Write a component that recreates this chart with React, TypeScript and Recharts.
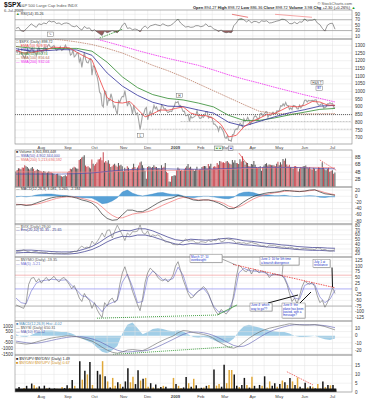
import React from 'react';
import { ComposedChart, Line, Area, Bar, Cell, XAxis, YAxis, CartesianGrid, ReferenceLine, ReferenceArea } from 'recharts';

// ---------- categories / ticks ----------
const monthLabels = ['Aug', 'Sep', 'Oct', 'Nov', 'Dec', '2009', 'Feb', 'Mar', 'Apr', 'May', 'Jun', 'Jul'];
const monthStartIdx = [20, 41, 62, 85, 104, 126, 146, 165, 187, 208, 228, 250];
const midMonthIdx = [7, 30, 50, 72, 94, 114, 135, 155, 175, 196, 218, 238];

const rsiTicks = [90, 70, 50, 30, 10];
const priceTicks = [1300, 1250, 1200, 1150, 1100, 1050, 1000, 950, 900, 850, 800, 750, 700];
const volTicks = [8, 6, 4, 2];
const macdTicks = [20, 0, -20, -40, -60, -80];
const vixTicks = [80, 70, 60, 50, 40, 30, 20];
const nymoTicks = [125, 100, 75, 50, 25, 0, -25, -50, -75, -100, -125];
const nysiTicksL = [1000, 500, 0, -500, -1000, -1500];
const nysiTicksR = [10, 0, -10, -20];
const ratioTicks = [15, 10, 5, 0];

// ---------- daily values (trading day index 0 = 3-Jul-2008) ----------
const closeVals = [
  1262.9, 1252.3, 1273.7, 1244.7, 1253.4, 1239.5, 1228.3, 1214.9, 1245.4, 1260.3, 1260.7, 1260.0, 1277.0, 1282.2, 1252.5, 1257.8, 1234.4, 1263.2, 1284.3, 1267.4,
  1260.3, 1249.0, 1284.9, 1289.2, 1266.1, 1296.3, 1305.3, 1289.6, 1285.8, 1292.9, 1298.2, 1278.6, 1267.0, 1274.5, 1277.7, 1292.2, 1266.8, 1271.5, 1281.7, 1300.7, 1282.8,
  1277.6, 1275.0, 1236.8, 1242.3, 1267.8, 1224.5, 1232.0, 1249.1, 1251.7, 1192.7, 1213.6, 1156.4, 1206.5, 1255.1, 1207.1, 1188.2, 1185.9, 1209.2, 1213.3, 1106.4, 1166.4,
  1161.1, 1114.3, 1099.2, 1056.9, 996.2, 984.9, 909.9, 899.2, 1003.4, 998.0, 907.8, 946.4, 940.6, 985.4, 955.1, 896.8, 908.1, 876.8, 848.9, 940.5, 930.1, 954.1, 968.8,
  966.3, 1005.8, 952.8, 904.9, 931.0, 919.2, 899.0, 852.3, 911.3, 873.3, 850.8, 859.1, 806.6, 752.4, 800.0, 851.8, 857.4, 887.7, 896.2,
  816.2, 848.8, 870.7, 845.2, 876.1, 909.7, 888.7, 899.2, 873.6, 879.7, 868.6, 913.2, 904.4, 885.3, 887.9, 871.6, 863.2, 868.2, 872.8, 869.4, 890.6, 903.3,
  931.8, 927.5, 934.7, 906.7, 909.7, 890.4, 870.3, 871.8, 842.6, 843.7, 850.1, 805.2, 840.2, 827.5, 832.0, 836.6, 845.7, 874.1, 845.1, 825.9,
  825.4, 838.5, 832.2, 845.9, 868.6, 869.9, 827.2, 833.7, 835.2, 826.8, 789.2, 788.4, 778.9, 770.1, 743.3, 773.1, 764.9, 752.8, 735.1,
  700.8, 696.3, 712.9, 682.6, 683.4, 676.5, 719.6, 721.4, 750.7, 756.6, 753.9, 778.1, 794.4, 784.0, 768.5, 822.9, 806.1, 813.9, 832.9, 815.9, 787.5, 797.9,
  811.1, 834.4, 842.5, 835.5, 815.6, 825.2, 856.6, 858.7, 841.5, 852.1, 865.3, 869.6, 832.4, 850.1, 843.6, 851.9, 866.2, 857.5, 855.2, 873.6, 872.8,
  877.5, 907.2, 903.8, 919.5, 907.4, 929.2, 909.2, 908.4, 883.9, 893.1, 882.9, 909.7, 908.1, 903.5, 888.3, 887.0, 910.3, 893.1, 906.8, 919.1,
  942.9, 944.7, 931.8, 942.5, 940.1, 939.1, 942.4, 939.2, 944.9, 946.2, 923.7, 912.0, 910.7, 918.4, 921.2, 893.0, 895.1, 900.9, 920.3, 918.9, 927.2, 919.3,
  923.3, 896.4, 898.7,
];

const volVals = [
  4.2, 4.6, 5.1, 5.0, 4.8, 5.3, 5.2, 5.9, 5.6, 5.4, 5.0, 4.7, 5.1, 5.4, 4.9, 4.3, 4.5, 4.8, 4.6, 4.4,
  4.2, 3.9, 4.3, 4.1, 3.8, 3.9, 4.2, 4.0, 3.9, 3.7, 3.6, 3.3, 3.5, 3.6, 3.2, 3.1, 2.9, 2.8, 3.0, 3.2, 2.9,
  4.0, 4.3, 4.9, 4.8, 5.2, 5.5, 5.3, 5.0, 4.9, 7.3, 7.6, 8.0, 8.2, 8.6, 5.8, 5.5, 5.6, 5.3, 5.0, 7.4, 6.3,
  5.8, 6.2, 6.6, 7.4, 7.5, 8.0, 7.2, 9.4, 6.6, 7.0, 6.6, 7.2, 6.3, 5.4, 5.6, 6.0, 6.3, 5.8, 5.5, 6.5, 5.8, 6.0, 5.6,
  4.3, 5.2, 4.8, 5.6, 5.2, 4.5, 4.7, 5.2, 6.3, 5.4, 4.8, 5.3, 5.8, 6.6, 6.9, 5.9, 5.2, 4.4, 2.2,
  5.4, 5.6, 5.5, 5.2, 5.4, 5.9, 5.5, 5.4, 5.0, 5.1, 4.8, 5.9, 5.2, 5.5, 6.5, 4.1, 3.8, 1.5, 1.4, 2.9, 3.0, 3.2,
  3.1, 4.5, 5.3, 4.9, 4.4, 4.6, 4.3, 4.8, 5.2, 5.6, 6.2, 5.2, 5.5, 4.9, 4.8, 4.3, 4.8, 5.5, 4.6, 4.7,
  4.8, 5.4, 5.6, 5.7, 5.6, 5.0, 6.2, 5.6, 6.3, 4.8, 5.5, 5.6, 5.5, 6.5, 6.0, 7.0, 6.9, 6.6, 6.7,
  6.5, 6.9, 7.0, 6.6, 6.3, 6.1, 7.3, 6.6, 7.2, 6.5, 6.4, 6.2, 7.5, 6.9, 8.3, 7.1, 6.0, 6.6, 6.5, 5.7, 5.6, 6.2,
  6.1, 7.0, 6.0, 5.4, 5.2, 5.4, 5.6, 4.4, 5.4, 5.8, 6.2, 6.4, 5.8, 6.1, 6.0, 5.9, 5.9, 5.8, 5.6, 6.3, 6.8,
  5.9, 6.7, 6.1, 7.6, 7.1, 7.7, 6.1, 5.6, 6.0, 5.4, 5.3, 5.0, 5.6, 5.7, 5.4, 4.2, 5.0, 5.4, 5.2, 5.6,
  5.6, 5.8, 5.3, 5.1, 5.4, 4.9, 4.7, 5.2, 5.0, 4.3, 4.8, 5.4, 5.3, 4.9, 6.7, 5.3, 4.8, 4.5, 4.9, 5.3, 4.1, 4.4,
  4.5, 3.6, 3.9,
];

// ---------- moving averages on price (every 6 / 12 trading days) ----------
const ema10Vals = [1268, 1250, 1252, 1262, 1272, 1288, 1285, 1284, 1255, 1228, 1205, 1080, 960, 930, 925, 935, 885, 835, 855, 880, 878, 890, 900, 860, 845, 843, 825, 785, 705, 715, 770, 805, 825, 850, 856, 880, 905, 900, 910, 935, 932, 912, 910];
const ema30Vals = [1278, 1262, 1265, 1272, 1270, 1235, 1120, 1035, 975, 930, 905, 902, 880, 860, 800, 775, 805, 835, 862, 882, 905, 910];
const ema50Vals = [1292, 1282, 1278, 1280, 1280, 1262, 1190, 1095, 1025, 980, 955, 945, 925, 900, 845, 812, 812, 828, 848, 866, 884, 890];
const sma100Vals = [1355, 1348, 1342, 1335, 1322, 1305, 1280, 1250, 1210, 1170, 1135, 1095, 1050, 1005, 960, 915, 872, 858, 855, 854, 855, 856];
const sma200Vals = [1420, 1410, 1398, 1385, 1370, 1348, 1322, 1295, 1266, 1240, 1215, 1193, 1170, 1140, 1108, 1080, 1055, 1028, 1003, 978, 955, 932];

// volume averages (every 12 days)
const volSma50Vals = [3.5, 3.5, 3.5, 3.5, 3.6, 3.8, 4.2, 4.6, 4.8, 4.9, 4.9, 4.8, 4.8, 4.9, 5.0, 5.2, 5.3, 5.3, 5.3, 5.2, 5.0, 4.9];
const volSma200Vals = [4.1, 4.1, 4.0, 4.0, 4.0, 4.0, 4.1, 4.2, 4.3, 4.4, 4.5, 4.5, 4.6, 4.7, 4.8, 5.0, 5.1, 5.2, 5.3, 5.3, 5.3, 5.2];

// ---------- RSI (every 2 days) ----------
const rsiVals = [
  38, 42, 29, 27, 36, 45, 55, 48, 42, 55, 52, 58, 55, 66, 62, 64, 56, 58, 52, 57,
  58, 55, 47, 44, 48, 38, 32, 45, 38, 40, 28, 33, 25, 18, 12, 28, 22, 26, 30, 26,
  22, 32, 50, 58, 38, 40, 33, 36, 33, 26, 40, 47, 38, 47, 50, 53, 50, 48, 55, 50,
  47, 49, 55, 65, 72, 58, 50, 43, 45, 42, 43, 48, 48, 44, 47, 55, 45, 46, 36, 33,
  27, 32, 25, 22, 24, 22, 48, 58, 72, 74, 70, 62, 68, 58, 64, 63, 58, 66, 64, 66,
  58, 59, 62, 65, 67, 72, 71, 65, 56, 55, 61, 55, 62, 61, 73, 65, 68, 68, 72, 58,
  52, 38, 28, 50, 56, 57, 35,
];

// ---------- MACD (every 4 days) ----------
const macdVals = [
  -28, -27, -30, -28, -22, -16, -10, -5, -2, -1, 0, -2, -6, -12, -16, -22, -36, -58, -72, -78,
  -76, -60, -45, -45, -50, -50, -42, -32, -22, -14, -9, -5, 2, -1, -6, -12, -14, -12, -12, -16,
  -22, -30, -40, -40, -30, -18, -8, 0, 5, 9, 12, 13, 15, 19, 18, 16, 15, 17, 20, 21,
  14, 8, 6, 3,
];
const signalVals = [
  -26, -27, -28, -28, -26, -22, -17, -12, -7, -4, -2, -2, -3, -7, -11, -16, -22, -35, -50, -62,
  -70, -70, -64, -58, -55, -53, -50, -45, -37, -29, -22, -15, -8, -4, -5, -9, -12, -12, -12, -14,
  -17, -23, -32, -37, -35, -27, -17, -8, -1, 4, 8, 11, 13, 16, 17, 17, 16, 16, 18, 20,
  17, 12, 8, 5,
];
const histVals = [
  -2, 0, -2, 0, 4, 6, 7, 7, 5, 3, 2, 0, -3, -5, -5, -6, -14, -24, -22, -15,
  -5, 14, 20, 10, 4, 1, 4, 7, 11, 12, 8, 6, 6, 1, -3, -5, -2, 0, 0, -2,
  -5, -7, -8, -3, 8, 13, 14, 11, 6, 5, 4, 2, 2, 3, 1, -1, -1, 1, 2, 1,
  -3, -4, -2, -2,
];

// ---------- VIX (every 2 days) and envelope (every 6 days) ----------
const vixVals = [
  23.5, 25, 26, 28, 26, 24, 22, 24, 25, 22, 23, 22, 22.5, 20, 21, 20, 21.5, 20.5, 21, 20,
  20.5, 22, 23, 25, 24, 31.7, 36, 32, 34, 32, 46.7, 39.8, 45, 53.7, 63.9, 54.9, 69.3, 70.3, 53.1, 67.8,
  80.1, 69.9, 59.9, 47.7, 63.7, 58.7, 66.5, 66.3, 67.6, 80.9, 64.7, 60.9, 68.5, 55.7, 59.9, 57.5, 59.9, 56.4, 49.8, 44.9,
  45, 43.4, 39.2, 39.2, 38.6, 42.6, 46, 51, 46.1, 47.3, 47.3, 43.1, 42.6, 45.5, 44.8, 43.4, 48.5, 45.1, 48.7, 47,
  52.6, 45, 46.4, 52.4, 50.2, 49.7, 47, 42.4, 44, 42.4, 43.2, 41, 42.6, 44.1, 42, 40.9, 38, 36.2, 36.9, 33.9,
  38.1, 37.4, 37.9, 35.4, 35.3, 33.4, 34.2, 32.1, 33.7, 33.1, 30, 31.4, 29, 30.5, 31.2, 30.2, 29.6, 29.5, 28.5, 32.7,
  31.5, 27.9, 29, 26.4, 25.4, 26.1, 29,
];
const envUpVals = [26.4, 27.5, 27.5, 26.4, 25.3, 24.2, 23.7, 23.7, 25.3, 29.7, 35.2, 44, 55, 63.8, 69.3, 68.2, 72.6, 72.6, 68.2, 61.6, 55, 49.5, 47.3, 50.6, 49.5, 48.4, 49.5, 51.7, 52.8, 50.6, 47.3, 46.2, 44, 41.8, 40.7, 38.5, 37.4, 35.2, 34.1, 33, 33, 31.9, 31.4];
const envLoVals = [21.6, 22.5, 22.5, 21.6, 20.7, 19.8, 19.4, 19.4, 20.7, 24.3, 28.8, 36, 45, 52.2, 56.7, 55.8, 59.4, 59.4, 55.8, 50.4, 45, 40.5, 38.7, 41.4, 40.5, 39.6, 40.5, 42.3, 43.2, 41.4, 38.7, 37.8, 36, 34.2, 33.3, 31.5, 30.6, 28.8, 27.9, 27, 27, 26.1, 25.7];

// ---------- $NYMO (every 2 days) and its MA (every 4 days) ----------
const nymoVals = [
  -70, -75, -80, -85, -60, 20, 46, 50, 30, 45, 25, 40, 50, 35, 45, 55, 40, 30, 45, 50,
  35, 20, 0, 15, -10, -40, -55, -20, -40, -50, -85, -60, -90, -110, -125, -60, -75, -50, -40, -60,
  -45, 20, 70, 97, 60, 30, -10, -40, -70, -95, -40, 30, 70, 91, 80, 70, 50, 40, 35, 45,
  30, 40, 60, 100, 119, 80, 40, 10, -20, -40, -35, -20, -10, 0, 10, 0, -20, -50, -80, -100,
  -114, -90, -100, -110, -95, -85, -20, 50, 104, 95, 80, 75, 90, 65, 85, 80, 70, 78, 75, 70,
  50, 60, 65, 62, 60, 58, 45, 20, -20, -55, -40, -65, -30, 10, 35, 25, 20, 28, 10, -30,
  -60, -50, -80, -60, -30, 6, -20,
];
const nymoMaVals = [
  -40, -60, -65, -10, 25, 35, 38, 42, 40, 38, 40, 15, -5, -30, -35, -55, -75, -100, -70, -60,
  -50, 30, 65, 10, -60, -55, 50, 78, 60, 40, 38, 45, 95, 60, -10, -30, -10, 3, -25, -75,
  -100, -100, -95, -40, 70, 90, 80, 78, 75, 72, 60, 62, 62, 52, 0, -40, -45, 15, 25, 18,
  -35, -60, -45, -5,
];

// ---------- $NYSI (every 4 days) ----------
const nysiVals = [
  -500, -560, -620, -560, -430, -300, -180, -80, 0, 60, 120, 110, 40, -80, -200, -350, -600, -900, -1150, -1350,
  -1430, -1320, -1150, -1100, -1150, -1200, -1000, -750, -500, -280, -80, 100, 400, 600, 550, 420, 330, 250, 130, -100,
  -400, -650, -900, -980, -800, -450, -100, 200, 450, 650, 800, 900, 1000, 1100, 1200, 1150, 1100, 1080, 1100, 1130,
  1050, 950, 800, 650,
];
const nysiMaVals = [
  -350, -420, -490, -540, -540, -480, -390, -290, -190, -100, -20, 40, 60, 30, -40, -150, -300, -500, -740, -970,
  -1160, -1280, -1320, -1290, -1250, -1230, -1170, -1040, -850, -640, -420, -200, 30, 250, 400, 460, 450, 400, 300, 150,
  -50, -280, -520, -740, -850, -800, -600, -330, -40, 230, 470, 660, 810, 940, 1050, 1110, 1120, 1110, 1100, 1100,
  1080, 1030, 950, 850,
];
const nysiHistVals = [
  2, -1, -2, 1, 4, 6, 7, 7, 6, 5, 5, 3, 0, -4, -7, -10, -16, -22, -24, -20,
  -14, 3, 15, 18, 10, 2, 5, 9, 10, 9, 7, 6, 7, 6, 2, -2, -3, -2, -3, -6,
  -9, -10, -9, -4, 6, 13, 15, 13, 11, 9, 7, 6, 5, 5, 3, 0, -2, -2, -1, 0,
  -3, -5, -6, -4,
];

// ---------- up/down volume ratios (every 2 days) ----------
const upDnVals = [
  0.9, 2.8, 0.7, 0.5, 3.5, 1.2, 4.8, 0.4, 0.6, 3.2, 0.8, 3.6, 0.5, 2.4, 1.1, 2.0, 0.6, 1.4, 0.4, 2.2,
  3.8, 0.5, 6.8, 0.3, 1.8, 17.5, 0.2, 12.0, 0.2, 17.0, 0.3, 0.6, 12.0, 10.0, 0.1, 9.0, 0.2, 2.5, 0.1, 0.3,
  5.5, 0.2, 3.0, 6.0, 13.5, 0.2, 0.1, 4.5, 12.3, 0.2, 7.5, 0.2, 0.3, 5.0, 0.4, 4.2, 0.5, 2.8, 0.3, 3.0,
  0.6, 1.8, 0.4, 4.5, 0.3, 0.5, 2.6, 8.5, 0.2, 3.0, 0.3, 3.8, 0.5, 2.4, 0.4, 3.5, 0.3, 1.5, 12.8, 0.3,
  0.2, 3.0, 15.4, 0.2, 0.3, 0.2, 10.0, 3.5, 0.4, 4.0, 8.0, 0.3, 2.5, 0.4, 3.5, 0.5, 4.0, 0.3, 8.9, 0.4,
  0.3, 3.5, 5.0, 0.4, 4.5, 0.3, 5.5, 0.3, 8.0, 0.2, 4.0, 0.3, 3.0, 0.5, 5.2, 0.4, 3.2, 0.4, 2.0, 0.3,
  0.5, 6.0, 0.4, 4.0, 0.4, 4.0, 1.49,
];
const dnUpVals = [
  1.1, 0.4, 1.5, 2.2, 0.3, 0.8, 0.2, 3.8, 2.5, 0.3, 1.3, 0.3, 2.1, 0.4, 0.9, 0.5, 1.9, 0.7, 2.9, 0.5,
  0.3, 2.3, 0.2, 3.5, 0.6, 0.1, 7.0, 0.1, 10.0, 0.1, 4.0, 1.8, 0.1, 0.1, 17.5, 0.1, 6.0, 0.4, 8.0, 3.5,
  0.2, 4.5, 0.3, 0.2, 0.1, 5.5, 8.7, 0.2, 0.1, 6.5, 0.1, 8.0, 3.0, 0.2, 2.5, 0.2, 2.0, 0.4, 3.5, 0.3,
  1.6, 0.5, 8.0, 0.2, 3.5, 2.2, 0.4, 0.1, 5.0, 0.3, 7.5, 0.3, 2.0, 0.4, 2.6, 0.3, 4.0, 0.6, 0.1, 3.6,
  4.5, 0.3, 0.1, 5.0, 12.5, 12.5, 0.1, 0.3, 2.8, 0.2, 0.1, 4.0, 0.4, 8.7, 0.3, 2.0, 0.2, 3.5, 0.1, 2.5,
  6.0, 0.3, 0.2, 3.0, 0.2, 6.5, 0.2, 4.0, 0.1, 6.0, 0.2, 8.2, 0.3, 2.0, 0.2, 2.6, 0.3, 3.0, 0.5, 4.5,
  2.0, 0.2, 2.8, 0.3, 3.8, 0.3, 0.67,
];

// ---------- tables ----------
type Row = { t: number; [k: string]: number };
function buildTable(series: { key: string; step: number; vals: number[] }[]): Row[] {
  const map = new Map<number, Row>();
  series.forEach((s) => {
    s.vals.forEach((v, i) => {
      const t = i * s.step;
      let row = map.get(t);
      if (!row) {
        row = { t };
        map.set(t, row);
      }
      row[s.key] = v;
    });
  });
  return Array.from(map.values()).sort((a, b) => a.t - b.t);
}

const priceTable = buildTable([
  { key: 'close', step: 1, vals: closeVals },
  { key: 'ema10', step: 6, vals: ema10Vals },
  { key: 'ema30', step: 12, vals: ema30Vals },
  { key: 'ema50', step: 12, vals: ema50Vals },
  { key: 'sma100', step: 12, vals: sma100Vals },
  { key: 'sma200', step: 12, vals: sma200Vals },
]);
const volTable = buildTable([
  { key: 'vol', step: 1, vals: volVals },
  { key: 'vs50', step: 12, vals: volSma50Vals },
  { key: 'vs200', step: 12, vals: volSma200Vals },
]);
const rsiTable = rsiVals.map((v, i) => ({ t: i * 2, rsi: v, hi: Math.max(v, 70), lo: Math.min(v, 30) }));
const macdTable = buildTable([
  { key: 'macd', step: 4, vals: macdVals },
  { key: 'signal', step: 4, vals: signalVals },
  { key: 'hist', step: 4, vals: histVals },
]);
const vixTable = buildTable([
  { key: 'vix', step: 2, vals: vixVals },
  { key: 'up', step: 6, vals: envUpVals },
  { key: 'lo', step: 6, vals: envLoVals },
]);
const nymoTable = buildTable([
  { key: 'nymo', step: 2, vals: nymoVals },
  { key: 'ma', step: 4, vals: nymoMaVals },
]);
const nysiTable = buildTable([
  { key: 'nysi', step: 4, vals: nysiVals },
  { key: 'ma', step: 4, vals: nysiMaVals },
  { key: 'hist', step: 4, vals: nysiHistVals },
]);
const ratioTable = buildTable([
  { key: 'up', step: 2, vals: upDnVals },
  { key: 'dn', step: 2, vals: dnUpVals },
]);

// ---------- layout ----------
const W = 367;
const H = 400;
const X0 = 15;
const X1 = 352;
const TMIN = -0.8;
const TMAX = 265.4;
const PAD = 3;
const xPx = (t: number) => X0 + ((t - TMIN) * (X1 - X0)) / (TMAX - TMIN);
const gridXs = [...monthStartIdx, ...midMonthIdx].map(xPx);
const FONT = '"Liberation Sans", Arial, Helvetica, sans-serif';
const tickStyle = { fontSize: 4.5, fill: '#333', fontFamily: FONT };
const M = { top: PAD, right: 0, bottom: PAD, left: 15 };
const GRID = '#e2e2e2';

const P = {
  rsi: { top: 10, h: 29 },
  price: { top: 39, h: 105 },
  vol: { top: 150, h: 37 },
  macd: { top: 187, h: 37 },
  vix: { top: 224, h: 33 },
  nymo: { top: 257, h: 64 },
  nysi: { top: 321, h: 34 },
  ratio: { top: 355, h: 37 },
};

const xAxisEl = <XAxis type="number" dataKey="t" domain={[TMIN, TMAX]} hide allowDataOverflow />;
const rightAxis = (domain: number[], ticks: number[], fmt?: (v: number) => string) => (
  <YAxis
    orientation="right"
    width={15}
    type="number"
    domain={domain}
    ticks={ticks}
    interval={0}
    tickLine={false}
    axisLine={false}
    tickSize={0}
    tickMargin={3}
    tick={tickStyle}
    allowDataOverflow
    tickFormatter={fmt}
  />
);
const grid = <CartesianGrid stroke={GRID} strokeWidth={0.5} verticalPoints={gridXs} />;

function Leg({ x, y, color, text, mark = '—', markColor }: any) {
  return (
    <text x={x} y={y} fontSize={3.7} fill={color} fontFamily={FONT}>
      <tspan fill={markColor || color}>{mark}</tspan> {text}
    </text>
  );
}

function Note({ x, y, w, h, lines }: any) {
  return (
    <g>
      <rect x={x + 0.6} y={y + 0.6} width={w} height={h} fill="#bbb" />
      <rect x={x} y={y} width={w} height={h} fill="#fff" stroke="#666" strokeWidth={0.4} />
      {lines.map((l: string, i: number) => (
        <text key={i} x={x + 1} y={y + 3.2 + i * 3.4} fontSize={3} fill="#2030c8" fontFamily={FONT}>
          {l}
        </text>
      ))}
    </g>
  );
}

function Tag({ x, y, w, text, color = '#333', bg = '#fff' }: any) {
  return (
    <g>
      <rect x={x} y={y} width={w} height={4.2} fill={bg} stroke="#555" strokeWidth={0.4} />
      <text x={x + w / 2} y={y + 3.3} fontSize={3.2} textAnchor="middle" fill={color} fontFamily={FONT}>
        {text}
      </text>
    </g>
  );
}

const pos = (top: number): React.CSSProperties => ({ position: 'absolute', left: 0, top: top - PAD });

export default function App() {
  return (
    <div style={{ position: 'absolute', left: 0, top: 0, width: W, height: H, background: '#fff', overflow: 'hidden', fontFamily: FONT }}>
      {/* RSI */}
      <div style={pos(P.rsi.top)}>
        <ComposedChart width={W} height={P.rsi.h + 2 * PAD} data={rsiTable} margin={M}>
          {xAxisEl}
          {rightAxis([-1.1, 105.9], rsiTicks)}
          {grid}
          <ReferenceLine y={70} stroke="#8a8a8a" strokeWidth={0.6} />
          <ReferenceLine y={30} stroke="#8a8a8a" strokeWidth={0.6} />
          <Area dataKey="hi" baseValue={70} stroke="none" fill="#3f8f3f" fillOpacity={0.9} isAnimationActive={false} />
          <Area dataKey="lo" baseValue={30} stroke="none" fill="#8c4a4a" fillOpacity={0.9} isAnimationActive={false} />
          <Line dataKey="rsi" stroke="#555" strokeWidth={0.6} dot={false} isAnimationActive={false} />
          <ReferenceLine segment={[{ x: 66, y: 2 }, { x: 84.5, y: 36 }]} stroke="#1f8f1f" strokeWidth={0.8} strokeDasharray="1.5 1" ifOverflow="visible" />
          <ReferenceLine segment={[{ x: 170.6, y: 90 }, { x: 183.3, y: 79 }]} stroke="#e34a4a" strokeWidth={0.7} ifOverflow="visible" />
          <ReferenceLine segment={[{ x: 204.6, y: 90 }, { x: 233.8, y: 79 }]} stroke="#f08080" strokeWidth={0.7} ifOverflow="visible" />
        </ComposedChart>
      </div>

      {/* Price */}
      <div style={pos(P.price.top)}>
        <ComposedChart width={W} height={P.price.h + 2 * PAD} data={priceTable} margin={M}>
          {xAxisEl}
          {rightAxis([659, 1341], priceTicks)}
          {grid}
          <ReferenceLine y={850} stroke="#222" strokeWidth={0.7} strokeDasharray="1 1" />
          <ReferenceLine segment={[{ x: 130, y: 805 }, { x: 265, y: 805 }]} stroke="#9a9a9a" strokeWidth={0.5} strokeDasharray="2 1" />
          <ReferenceLine segment={[{ x: 100, y: 755 }, { x: 265, y: 755 }]} stroke="#9a9a9a" strokeWidth={0.5} strokeDasharray="2 1" />
          <Line dataKey="close" stroke="#a4a4a4" strokeWidth={1.1} dot={false} isAnimationActive={false} />
          <Line dataKey="sma200" stroke="#ee22ee" strokeWidth={0.8} strokeDasharray="1.5 0.8" dot={false} connectNulls isAnimationActive={false} />
          <Line dataKey="sma100" stroke="#b06a50" strokeWidth={0.7} strokeDasharray="1.5 0.8" dot={false} connectNulls isAnimationActive={false} />
          <Line dataKey="ema50" stroke="#2f8a2f" strokeWidth={0.8} dot={false} connectNulls isAnimationActive={false} />
          <Line dataKey="ema30" stroke="#30309a" strokeWidth={0.8} dot={false} connectNulls isAnimationActive={false} />
          <Line dataKey="ema10" stroke="#ee4040" strokeWidth={0.8} dot={false} connectNulls isAnimationActive={false} />
        </ComposedChart>
      </div>

      {/* Volume */}
      <div style={pos(P.vol.top)}>
        <ComposedChart width={W} height={P.vol.h + 2 * PAD} data={volTable} margin={M}>
          {xAxisEl}
          {rightAxis([0, 10], volTicks, (v: number) => `${v}B`)}
          {grid}
          <Bar dataKey="vol" barSize={1} isAnimationActive={false}>
            {volTable.map((r, i) => (
              <Cell key={i} fill={i > 0 && closeVals[i] < closeVals[i - 1] ? '#c9474f' : '#555'} />
            ))}
          </Bar>
          <Line dataKey="vs200" stroke="#f08a8a" strokeWidth={0.7} dot={false} connectNulls isAnimationActive={false} />
          <Line dataKey="vs50" stroke="#5050b0" strokeWidth={0.7} dot={false} connectNulls isAnimationActive={false} />
          <ReferenceLine segment={[{ x: 176, y: 9.2 }, { x: 183, y: 5.9 }]} stroke="#e03030" strokeWidth={0.6} ifOverflow="visible" />
          <ReferenceLine segment={[{ x: 240, y: 7.3 }, { x: 253.5, y: 4.4 }]} stroke="#e03030" strokeWidth={0.6} strokeDasharray="1.5 1" ifOverflow="visible" />
        </ComposedChart>
      </div>

      {/* MACD */}
      <div style={pos(P.macd.top)}>
        <ComposedChart width={W} height={P.macd.h + 2 * PAD} data={macdTable} margin={M}>
          {xAxisEl}
          {rightAxis([-90, 30], macdTicks)}
          {grid}
          <Area dataKey="hist" baseValue={0} stroke="#2a7fc0" strokeWidth={0.4} fill="#3a90d0" fillOpacity={0.85} isAnimationActive={false} />
          <Line dataKey="signal" stroke="#f07070" strokeWidth={0.7} dot={false} isAnimationActive={false} />
          <Line dataKey="macd" stroke="#333" strokeWidth={0.7} dot={false} isAnimationActive={false} />
        </ComposedChart>
      </div>

      {/* VIX */}
      <div style={pos(P.vix.top)}>
        <ComposedChart width={W} height={P.vix.h + 2 * PAD} data={vixTable} margin={M}>
          {xAxisEl}
          {rightAxis([13, 82.7], vixTicks)}
          {grid}
          <Line dataKey="up" stroke="#30308a" strokeWidth={0.7} dot={false} connectNulls isAnimationActive={false} />
          <Line dataKey="lo" stroke="#30308a" strokeWidth={0.7} dot={false} connectNulls isAnimationActive={false} />
          <Line dataKey="vix" stroke="#777" strokeWidth={0.6} dot={false} isAnimationActive={false} />
        </ComposedChart>
      </div>

      {/* NYMO */}
      <div style={pos(P.nymo.top)}>
        <ComposedChart width={W} height={P.nymo.h + 2 * PAD} data={nymoTable} margin={M}>
          {xAxisEl}
          {rightAxis([-140.2, 139.4], nymoTicks)}
          {grid}
          <ReferenceLine y={60} stroke="#f08a8a" strokeWidth={0.6} />
          <ReferenceLine y={0} stroke="#8a8aff" strokeWidth={0.6} />
          <ReferenceLine y={-75} stroke="#8c8c8c" strokeWidth={0.6} />
          <Line dataKey="ma" stroke="#6a6ad0" strokeWidth={0.6} dot={false} connectNulls isAnimationActive={false} />
          <Line dataKey="nymo" stroke="#666" strokeWidth={0.6} dot={false} isAnimationActive={false} />
          <ReferenceLine segment={[{ x: 171.4, y: 107 }, { x: 252, y: 5 }]} stroke="#e83030" strokeWidth={0.8} strokeDasharray="1.5 1" ifOverflow="visible" />
          <ReferenceLine segment={[{ x: 64, y: -128 }, { x: 159, y: -114 }]} stroke="#1f8f1f" strokeWidth={0.8} strokeDasharray="1 1" ifOverflow="visible" />
          <ReferenceLine segment={[{ x: 159, y: -114 }, { x: 174.6, y: -70 }]} stroke="#1f8f1f" strokeWidth={0.7} ifOverflow="visible" />
        </ComposedChart>
      </div>

      {/* NYSI */}
      <div style={pos(P.nysi.top)}>
        <ComposedChart width={W} height={P.nysi.h + 2 * PAD} data={nysiTable} margin={{ top: PAD, right: 0, bottom: PAD, left: 0 }}>
          {xAxisEl}
          <YAxis yAxisId="L" orientation="left" width={15} type="number" domain={[-1590, 1446]} ticks={nysiTicksL} interval={0} tickLine={false} axisLine={false} tickSize={0} tickMargin={2} tick={tickStyle} allowDataOverflow />
          <YAxis yAxisId="R" orientation="right" width={15} type="number" domain={[-26.4, 20]} ticks={nysiTicksR} interval={0} tickLine={false} axisLine={false} tickSize={0} tickMargin={3} tick={tickStyle} allowDataOverflow />
          {nysiTicksL.map((v) => (
            <ReferenceLine key={v} yAxisId="L" y={v} stroke={GRID} strokeWidth={0.5} />
          ))}
          {gridXs.map((x, i) => (
            <ReferenceLine key={'g' + i} yAxisId="L" x={TMIN + ((x - X0) * (TMAX - TMIN)) / (X1 - X0)} stroke={GRID} strokeWidth={0.5} />
          ))}
          <Area yAxisId="R" dataKey="hist" baseValue={0} stroke="none" fill="#9ccbe6" fillOpacity={0.95} isAnimationActive={false} />
          <Line yAxisId="L" dataKey="ma" stroke="#5a5ab0" strokeWidth={0.6} dot={false} isAnimationActive={false} />
          <Line yAxisId="L" dataKey="nysi" stroke="#666" strokeWidth={0.6} dot={false} isAnimationActive={false} />
          <ReferenceLine yAxisId="L" segment={[{ x: 76.6, y: -1540 }, { x: 171.4, y: -840 }]} stroke="#1f8f1f" strokeWidth={0.8} strokeDasharray="1 1" ifOverflow="visible" />
        </ComposedChart>
      </div>

      {/* Up/down volume ratio: gold layer */}
      <div style={pos(P.ratio.top)}>
        <ComposedChart width={W} height={P.ratio.h + 2 * PAD} data={ratioTable} margin={M}>
          {xAxisEl}
          {rightAxis([0, 21], ratioTicks)}
          {grid}
          <Bar dataKey="dn" barSize={1.5} fill="#e0a838" isAnimationActive={false} />
        </ComposedChart>
      </div>
      {/* black layer */}
      <div style={pos(P.ratio.top)}>
        <ComposedChart width={W} height={P.ratio.h + 2 * PAD} data={ratioTable} margin={{ top: PAD, right: 15, bottom: PAD, left: 15 }}>
          {xAxisEl}
          <YAxis hide type="number" domain={[0, 21]} allowDataOverflow />
          <Bar dataKey="up" barSize={1.5} fill="#151515" isAnimationActive={false} />
          <ReferenceArea x1={-0.8} x2={253} y1={0} y2={2} fill="#151515" fillOpacity={1} stroke="none" ifOverflow="visible" />
          <ReferenceLine segment={[{ x: 214, y: 11.5 }, { x: 234.6, y: 4 }]} stroke="#e83030" strokeWidth={0.8} strokeDasharray="1 1" ifOverflow="visible" />
        </ComposedChart>
      </div>

      {/* overlay: texts, borders, annotations */}
      <svg width={W} height={H} style={{ position: 'absolute', left: 0, top: 0, pointerEvents: 'none' }}>
        {Object.values(P).map((p, i) => (
          <rect key={i} x={X0} y={p.top} width={X1 - X0} height={p.h} fill="none" stroke="#8a8a8a" strokeWidth={0.6} />
        ))}
        {/* header */}
        <text x={4} y={7} fontSize={6.6} fontWeight="bold" fill="#111" fontFamily={FONT}>$SPX</text>
        <text x={19} y={6.6} fontSize={4.1} fill="#555" fontFamily={FONT}>S&amp;P 500 Large Cap Index INDX</text>
        <text x={4} y={11.5} fontSize={4.1} fill="#555" fontFamily={FONT}>6-Jul-2009</text>
        <text x={352} y={4.6} fontSize={4} textAnchor="end" fill="#555" fontFamily={FONT}>© StockCharts.com</text>
        <text x={350} y={9.4} fontSize={4} textAnchor="end" fill="#222" fontFamily={FONT}>
          <tspan fontWeight="bold">Open</tspan> 894.27 <tspan fontWeight="bold">High</tspan> 898.72 <tspan fontWeight="bold">Low</tspan> 886.36{' '}
          <tspan fontWeight="bold">Close</tspan> 898.72 <tspan fontWeight="bold">Volume</tspan> 3.9B <tspan fontWeight="bold">Chg</tspan> +2.30 (+0.26%)
        </text>
        <text x={351.5} y={9.4} fontSize={4} fill="#1a9a1a" fontFamily={FONT}>▲</text>

        {/* legends */}
        <Leg x={16} y={14.8} color="#333" mark="▲" markColor="#2f8f2f" text="RSI(14) 35.26" />
        <Leg x={16} y={43.2} color="#444" mark="□" text="$SPX (Daily) 898.72" />
        <Leg x={16} y={47.2} color="#e84040" text="EMA(10) 909.95" />
        <Leg x={16} y={51.2} color="#30309a" text="EMA(30) 910.41" />
        <Leg x={16} y={55.2} color="#2f8a2f" text="EMA(50) 890.74" />
        <Leg x={16} y={59.2} color="#b06a50" text="SMA(100) 856.64" />
        <Leg x={16} y={63.2} color="#ee22ee" text="SMA(200) 932.04" />

        <Leg x={16} y={153.2} color="#444" mark="■" text="Volume 3,901,883,448" />
        <Leg x={16} y={157} color="#5050b0" text="SMA(50) 4,902,344,000" />
        <Leg x={16} y={160.8} color="#e86a6a" text="SMA(200) 5,213,694,592" />

        <Leg x={16} y={190.2} color="#333" text="MACD(12,26,9) 3.081, 5.265, -2.184" />

        <Leg x={16} y={227.6} color="#555" text="$VIX (Daily) 29.00" />
        <Leg x={16} y={231.4} color="#30308a" text="Env(20,10) 31.35 - 25.65" />

        <Leg x={16} y={261.4} color="#555" text="$NYMO (Daily) -19.35" />
        <Leg x={16} y={265.2} color="#6a6ad0" text="MA(5) -5.21" />

        <Leg x={16} y={325} color="#4a8ab8" mark="■" text="MACD(12,26,9) Hist -4.02" />
        <Leg x={16} y={328.8} color="#555" text="$NYSI (Daily) 650.31" />
        <Leg x={16} y={332.6} color="#5a5ab0" text="MA(10) 850.12" />

        <Leg x={16} y={360} color="#222" mark="■" text="$NYUPV:$NYDNV (Daily) 1.49" />
        <Leg x={16} y={363.8} color="#d09020" mark="■" text="$NYDNV:$NYUPV (Daily) 0.67" />

        {/* month labels */}
        {monthLabels.map((m, i) => (
          <text key={'m1' + i} x={xPx(monthStartIdx[i])} y={149} fontSize={4.2} textAnchor="middle" fontWeight={m === '2009' ? 'bold' : 'normal'} fill="#444" fontFamily={FONT}>
            {m}
          </text>
        ))}
        {monthLabels.map((m, i) => (
          <text key={'m2' + i} x={xPx(monthStartIdx[i])} y={397.5} fontSize={4.2} textAnchor="middle" fontWeight={m === '2009' ? 'bold' : 'normal'} fill="#444" fontFamily={FONT}>
            {m}
          </text>
        ))}

        {/* small chart tags */}
        <Tag x={47.5} y={32} w={6} text="∿" />
        <Tag x={176.5} y={93.5} w={6} text="H" />
        <Tag x={137.5} y={133.5} w={6} text="L" />
        <Tag x={311} y={80.5} w={12} text="H&amp;S T" />
        <Tag x={316} y={86} w={6.5} text="BT" color="#2030c8" />
        <Tag x={214.5} y={146} w={8} text="▲▲" color="#2f8f2f" bg="#e6f4e6" />
        <Tag x={228.5} y={146} w={4.5} text="▲" color="#2030c8" bg="#e6e6f8" />

        {/* NYMO annotations */}
        <line x1={222} y1={259} x2={236} y2={265} stroke="#555" strokeWidth={0.5} />
        <line x1={283} y1={265} x2={282} y2={276} stroke="#555" strokeWidth={0.5} />
        <line x1={332} y1={267.5} x2={332.5} y2={287} stroke="#111" strokeWidth={1} />
        <line x1={268} y1={303} x2={298} y2={295} stroke="#111" strokeWidth={1} />
        <line x1={300} y1={303} x2={311} y2={292} stroke="#111" strokeWidth={1} />
        <Note x={190} y={254.5} w={32} h={8} lines={['March 17: 10', 'overbought']} />
        <Note x={260} y={257} w={39} h={8} lines={['June 1: 10 for 5th time', 'a bearish divergence']} />
        <Note x={313} y={259.5} w={17} h={8} lines={['July 1 at', 'resistance']} />
        <Note x={250} y={303} w={22} h={8} lines={['June 4: which', 'way to go??']} />
        <Note x={282} y={303} w={23} h={15} lines={['June 8: the', 'plane has been', 'posted, with a', 'message?']} />
      </svg>
    </div>
  );
}
